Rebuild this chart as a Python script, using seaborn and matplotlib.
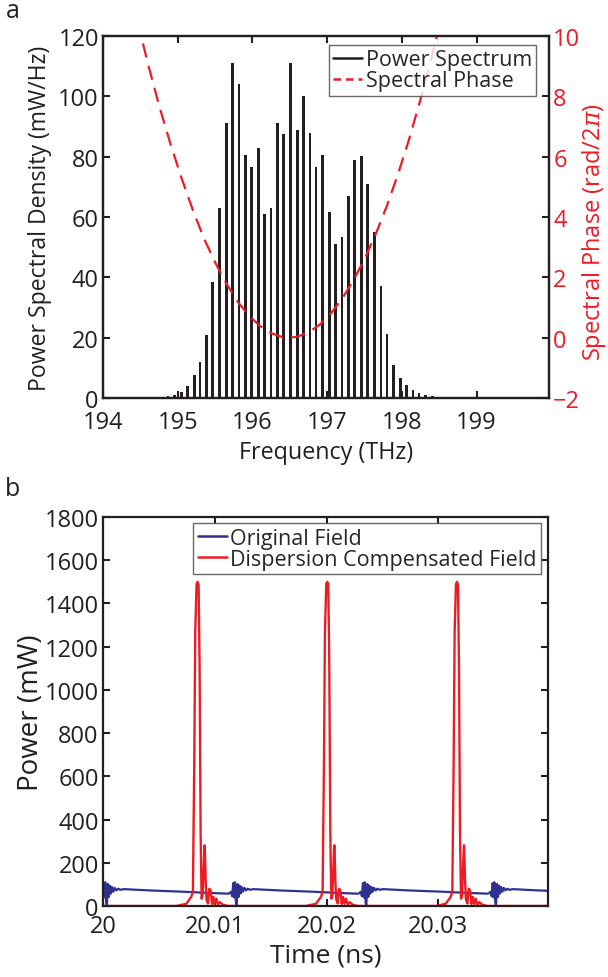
import numpy as np
import pandas as pd
import matplotlib
matplotlib.use("Agg")
import matplotlib.pyplot as plt
from matplotlib.lines import Line2D
import seaborn as sns

# ---------------- data ----------------
# Panel a: comb lines (THz) and power spectral density (mW/Hz)
comb_freq = [194.79, 194.87, 194.96, 195.05, 195.13, 195.22, 195.30, 195.39,
             195.47, 195.56, 195.65, 195.73, 195.82, 195.91, 195.99, 196.08,
             196.16, 196.25, 196.34, 196.42, 196.51, 196.60, 196.68, 196.77,
             196.85, 196.94, 197.03, 197.11, 197.20, 197.29, 197.37, 197.46,
             197.54, 197.63, 197.72, 197.80, 197.89, 197.98, 198.06, 198.15,
             198.23, 198.32, 198.41, 198.49, 198.58]
comb_psd = [0.3, 0.5, 1.0, 2.0, 4.1, 7.6, 11.8, 21, 38.5, 63, 91, 111, 104,
            80.5, 76.6, 83, 61, 63, 91, 87.5, 111, 89, 100, 88, 76.7, 80.5,
            61.7, 50.9, 53.5, 67, 78.8, 80.2, 70.8, 54.9, 37.1, 21.3, 10.8,
            6.7, 4.3, 2.8, 1.5, 1.0, 0.5, 0.3, 0.2]

phase_freq = [194.30, 194.45, 194.60, 194.75, 194.90, 195.05, 195.20, 195.35,
              195.50, 195.65, 195.80, 195.95, 196.10, 196.25, 196.40, 196.49,
              196.60, 196.75, 196.90, 197.05, 197.20, 197.35, 197.50, 197.65,
              197.80, 197.95, 198.10, 198.25, 198.40, 198.55, 198.70]
phase_val = [12.2, 10.6, 9.1, 7.7, 6.45, 5.3, 4.25, 3.3, 2.5, 1.8, 1.2, 0.74,
             0.39, 0.15, 0.02, 0.0, 0.03, 0.17, 0.43, 0.8, 1.29, 1.89, 2.6,
             3.43, 4.37, 5.43, 6.6, 7.9, 9.3, 10.8, 12.45]

# Panel b: time traces (ns, mW)
red_pulse_times = [20.00846, 20.02006, 20.03166]
red_offsets = [-0.00191, -0.00102, -0.00057, -0.00042, -0.00030, -0.00021,
               -0.00009, 0.0, 0.00009, 0.00018, 0.00027, 0.00036, 0.00045,
               0.00054, 0.00060, 0.00063, 0.00066, 0.00072, 0.00080, 0.00093,
               0.00105, 0.00117, 0.00129, 0.00141, 0.00153, 0.00167, 0.00182,
               0.00200, 0.00227, 0.00272]
red_shape = [0, 10, 42, 65, 650, 1270, 1490, 1500, 1487, 1110, 340, 34, 49,
             170, 260, 281, 250, 120, 30, 12, 80, 72, 10, 42, 10, 34, 6, 18, 6, 0]

blue_burst_times = [20.0002, 20.0118, 20.0234, 20.0350]
blue_offsets = [-0.00060, -0.00045, -0.00036, -0.00024, -0.00015, -0.00006,
                0.0, 0.00009, 0.00015, 0.00024, 0.00033, 0.00042, 0.00051,
                0.00060, 0.00072, 0.00084, 0.00099, 0.00114, 0.00135, 0.00165,
                0.00400, 0.00700, 0.00950, 0.01100]
blue_shape = [57, 60, 66, 45, 106, 40, 110, 15, 3, 102, 42, 94, 58, 88, 66,
              84, 72, 80, 75, 78, 72, 66, 60, 57]

time_ticks = [20.0, 20.01, 20.02, 20.03]
time_ticklabels = ["20", "20.01", "20.02", "20.03"]
freq_ticks = [194, 195, 196, 197, 198, 199]

# ---------------- style ----------------
sns.set_theme(style="white")
plt.rcParams["font.family"] = ["Open Sans", "DejaVu Sans"]
plt.rcParams["mathtext.fontset"] = "custom"
plt.rcParams["mathtext.it"] = "DejaVu Serif:italic"

BLACK = "#231f20"
RED = "#ed1c24"
BLUE = "#2e3192"
TICK_FS = 17
LEG_FS = 15.5

fig = plt.figure(figsize=(6.08, 9.78), dpi=100)
ax1 = fig.add_axes([103 / 608, 1 - 399 / 978, 446 / 608, 362 / 978])
ax3 = fig.add_axes([103 / 608, 1 - 907 / 978, 445 / 608, 389 / 978])

def style_axis(ax):
    for s in ax.spines.values():
        s.set_linewidth(1.6)
        s.set_color(BLACK)
        s.set_visible(True)

# ---------------- panel a ----------------
spec = pd.DataFrame({"f": comb_freq, "p": comb_psd})
sns.barplot(data=spec, x="f", y="p", native_scale=True, width=0.46,
            color=BLACK, saturation=1, linewidth=0, ax=ax1)
ax1.set_xlim(194, 199.97)
ax1.set_ylim(0, 120)
ax1.set_xticks(freq_ticks)
ax1.set_xticklabels([str(t) for t in freq_ticks])
ax1.set_yticks(np.arange(0, 121, 20))
ax1.set_xlabel("Frequency (THz)", fontsize=16.8, color=BLACK, labelpad=4)
ax1.set_ylabel("Power Spectral Density (mW/Hz)", fontsize=16.6, color=BLACK)
ax1.yaxis.set_label_coords(-0.114, 0.5)
ax1.tick_params(axis="both", direction="in", length=5, width=1.5, labelsize=TICK_FS,
                colors=BLACK, pad=3, top=True, bottom=True, left=True, right=False)
ax1.tick_params(axis="x", pad=9)
style_axis(ax1)

ax2 = ax1.twinx()
ph = pd.DataFrame({"f": phase_freq, "ph": phase_val})
sns.lineplot(data=ph, x="f", y="ph", color=RED, linewidth=1.6,
             linestyle=(0, (6.5, 3.8)), ax=ax2, estimator=None)
ax2.set_ylim(-2, 10)
ax2.set_yticks(np.arange(-2, 11, 2))
ax2.set_ylabel(r"Spectral Phase (rad/2$\pi$)", fontsize=17, color=RED)
ax2.yaxis.set_label_coords(1.07, 0.46)
ax2.tick_params(axis="y", direction="in", length=5, width=1.5, labelsize=TICK_FS,
                colors=BLACK, labelcolor=RED, pad=3, right=True)
ax2.set_xlim(194, 199.97)
style_axis(ax2)

handles = [Line2D([], [], color=BLACK, lw=1.8),
           Line2D([], [], color=RED, lw=1.8, linestyle=(0, (3, 2)))]
leg = ax2.legend(handles, ["Power Spectrum", "Spectral Phase"], loc="upper right",
                 bbox_to_anchor=(0.971, 0.975), borderaxespad=0, fontsize=LEG_FS,
                 frameon=True, fancybox=False, edgecolor="#444444",
                 handlelength=1.35, handletextpad=0.15, labelspacing=0.0,
                 borderpad=0.2)
leg.get_frame().set_linewidth(1.0)

# ---------------- panel b ----------------
red_t = [20.0]
red_p = [0.0]
for tc in red_pulse_times:
    for o, v in zip(red_offsets, red_shape):
        red_t.append(tc + o)
        red_p.append(v)
red_t.append(20.04)
red_p.append(0.0)

blue_t = []
blue_p = []
for tc in blue_burst_times:
    for o, v in zip(blue_offsets, blue_shape):
        blue_t.append(tc + o)
        blue_p.append(v)

sns.lineplot(x=blue_t, y=blue_p, color=BLUE, linewidth=1.6, ax=ax3,
             estimator=None, sort=False, label="Original Field")
sns.lineplot(x=red_t, y=red_p, color=RED, linewidth=1.7, ax=ax3,
             estimator=None, sort=False, label="Dispersion Compensated Field")
ax3.set_xlim(20.0, 20.0398)
ax3.set_ylim(0, 1800)
ax3.set_xticks(time_ticks)
ax3.set_xticklabels(time_ticklabels)
ax3.set_yticks(np.arange(0, 1801, 200))
ax3.set_xlabel("Time (ns)", fontsize=19, color=BLACK, labelpad=3)
ax3.set_ylabel("Power (mW)", fontsize=20, color=BLACK)
ax3.yaxis.set_label_coords(-0.13, 0.5)
ax3.tick_params(axis="both", direction="in", length=5, width=1.5, labelsize=TICK_FS,
                colors=BLACK, pad=3, top=True, bottom=True, left=True, right=True)
ax3.tick_params(axis="x", pad=6)
style_axis(ax3)
leg3 = ax3.legend(loc="upper right", bbox_to_anchor=(0.984, 0.984), borderaxespad=0,
                  fontsize=LEG_FS, frameon=True, fancybox=False, edgecolor="#444444",
                  handlelength=1.35, handletextpad=0.15, labelspacing=0.0, borderpad=0.2)
leg3.get_frame().set_linewidth(1.0)
for l in leg3.get_lines():
    l.set_linewidth(1.8)

fig.text(6 / 608, 1 - 11 / 978, "a", fontsize=18, color=BLACK, va="center", ha="left")
fig.text(5 / 608, 1 - 490 / 978, "b", fontsize=18, color=BLACK, va="center", ha="left")

fig.savefig("out.png", dpi=100)
